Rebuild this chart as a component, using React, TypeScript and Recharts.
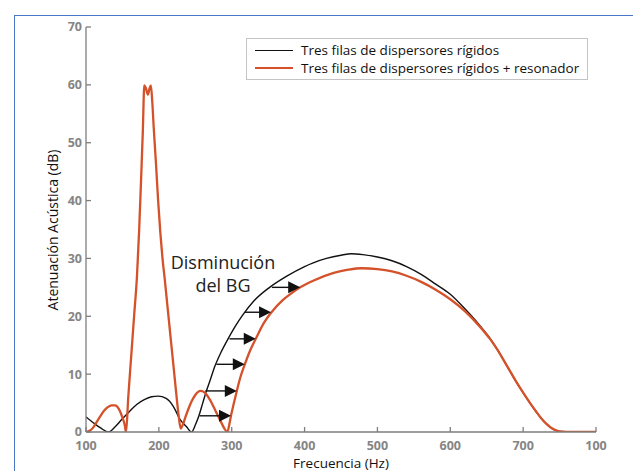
import React from 'react';
import { LineChart, Line, XAxis, YAxis, ReferenceLine, Legend } from 'recharts';

// ---- data ----
const xTicks = [100, 200, 300, 400, 500, 600, 700, 800];
const xTickLabels = ['100', '200', '300', '400', '500', '600', '700', '100'];
const yTicks = [0, 10, 20, 30, 40, 50, 60, 70];

const seriesNames = [
  'Tres filas de dispersores rígidos',
  'Tres filas de dispersores rígidos + resonador',
];

const rigidHz = [100, 110, 120, 131, 140, 150, 160, 170, 180, 190, 199, 210, 220, 229, 238, 245, 250, 255, 260, 265, 270, 277, 285, 295, 305, 315, 330, 352, 375, 400, 411, 430, 450, 464, 480, 500, 520, 540, 560, 580, 600, 620, 640, 655, 665, 677, 690, 700, 710, 718, 725, 732, 740, 746, 755, 765, 800];
const rigidDb = [2.6, 1.6, 0.7, 0, 0.9, 2.3, 3.6, 4.8, 5.6, 6.1, 6.2, 5.8, 4.4, 2.2, 0.9, 0, 1.2, 2.8, 4.9, 7.0, 8.8, 11.4, 13.7, 16.1, 18.3, 20.2, 22.6, 25.0, 26.9, 28.6, 29.2, 30.0, 30.55, 30.8, 30.65, 30.25, 29.6, 28.6, 27.25, 25.55, 23.8, 21.3, 18.5, 16.1, 14.2, 11.6, 8.8, 6.8, 4.9, 3.5, 2.35, 1.4, 0.6, 0.25, 0.05, 0, 0];

const resonHz = [100, 105, 110, 115, 120, 125, 130, 135, 140, 145, 150, 153, 155, 158, 162, 166, 170, 173, 176, 178, 180, 182, 185, 187, 189, 191, 193, 196, 199, 202, 205, 208, 212, 216, 220, 224, 227, 230, 233, 236, 240, 245, 250, 257, 263, 270, 278, 285, 290, 294, 297, 299, 303, 307, 312, 318, 325, 333, 343, 354, 370, 380, 394, 411, 440, 460, 478, 500, 520, 540, 560, 580, 600, 620, 640, 655, 665, 677, 690, 700, 710, 718, 725, 732, 740, 746, 755, 765, 800];
const resonDb = [0, 0.2, 0.8, 1.8, 2.8, 3.7, 4.3, 4.6, 4.6, 4.0, 2.5, 1.3, 0, 6, 13, 20, 27, 35, 45, 52, 59.9, 59.5, 58.3, 59.3, 59.9, 57, 52.5, 46.5, 40, 34.5, 30, 26.5, 21.5, 16.5, 11.5, 6.5, 3, 0.6, 1.3, 2.4, 3.8, 5.3, 6.4, 7.1, 6.8, 5.6, 3.6, 1.8, 0.6, 0, 1.5, 2.8, 5.0, 7.1, 9.5, 11.7, 14, 16.1, 18.6, 20.6, 22.8, 23.8, 25.0, 26.1, 27.5, 28.05, 28.3, 28.15, 27.75, 27.0, 25.95, 24.6, 22.95, 20.9, 18.3, 16.0, 14.15, 11.6, 8.8, 6.8, 4.9, 3.5, 2.35, 1.4, 0.6, 0.25, 0.05, 0, 0];

const arrowDb = [2.8, 7.1, 11.7, 16.1, 20.7, 25.0];
const arrowFromHz = [256, 264, 279, 297, 318, 355];
const arrowToHz = [299, 307, 318, 333, 354, 394];

const annotationLines = ['Disminución', 'del BG'];
const xTitle = 'Frecuencia (Hz)';
const yTitle = 'Atenuación Acústica (dB)';

// ---- built tables ----
const rigidData = rigidHz.map((hz, i) => ({ hz, db: rigidDb[i] }));
const resonData = resonHz.map((hz, i) => ({ hz, db: resonDb[i] }));

const FONT = '"Open Sans", "Noto Sans", sans-serif';
const AXIS_GRAY = '#7d7d7d';
const TICK_GRAY = '#858585';
const RED = '#D4512A';

const tickStyle = { fill: TICK_GRAY, fontSize: 12.5, fontWeight: 700, fontFamily: FONT };

const Arrow = (p: any) => {
  const { x1, y1, x2, y2 } = p;
  const L = 12;
  const H = 6;
  return (
    <g>
      <line x1={x1} y1={y1} x2={x2 - L + 1} y2={y2} stroke="#111" strokeWidth={1.4} />
      <path d={`M${x2},${y2} L${x2 - L},${y2 - H} L${x2 - L},${y2 + H} Z`} fill="#111" />
    </g>
  );
};

const renderLegend = (props: any) => {
  const payload = props.payload || [];
  return (
    <div
      style={{
        boxSizing: 'border-box',
        width: 342,
        height: 42,
        border: '1px solid #c4c4c4',
        background: '#fff',
        position: 'relative',
        fontFamily: FONT,
        fontSize: 13.5,
        color: '#111',
      }}
    >
      {payload.map((e: any, i: number) => (
        <div
          key={i}
          style={{
            position: 'absolute',
            left: 8,
            top: 2 + 18 * i,
            height: 18,
            display: 'flex',
            alignItems: 'center',
            whiteSpace: 'nowrap',
          }}
        >
          <span
            style={{
              display: 'inline-block',
              width: 38,
              height: 0,
              borderTop: `${i ? 2.2 : 1.6}px solid ${e.color}`,
              marginRight: 8,
            }}
          />
          <span>{e.value}</span>
        </div>
      ))}
    </div>
  );
};

export default function App() {
  return (
    <div
      style={{
        position: 'absolute',
        left: 0,
        top: 0,
        width: 633,
        height: 471,
        background: '#fff',
        overflow: 'hidden',
        fontFamily: FONT,
      }}
    >
      <div
        style={{
          position: 'absolute',
          left: 14,
          top: 15,
          width: 700,
          height: 600,
          borderTop: '1.5px solid #4a78c8',
          borderLeft: '1.5px solid #4a78c8',
        }}
      />
      <LineChart width={633} height={471} margin={{ top: 27, right: 37, bottom: 9, left: 46 }}>
        <XAxis
          xAxisId={0}
          type="number"
          dataKey="hz"
          domain={[100, 800]}
          ticks={xTicks}
          interval={0}
          allowDataOverflow
          tickFormatter={(v: number) => xTickLabels[xTicks.indexOf(v)] ?? String(v)}
          tickSize={-5}
          tickMargin={14}
          height={30}
          stroke={AXIS_GRAY}
          strokeWidth={1.3}
          tick={tickStyle}
        />
        <XAxis
          xAxisId="top"
          orientation="top"
          type="number"
          domain={[100, 800]}
          ticks={xTicks}
          interval={0}
          tick={false}
          tickSize={-5}
          height={0}
          stroke={AXIS_GRAY}
          strokeWidth={1.3}
        />
        <YAxis
          yAxisId={0}
          type="number"
          domain={[0, 70]}
          ticks={yTicks}
          interval={0}
          allowDataOverflow
          width={40}
          tickSize={-5}
          tickMargin={9}
          stroke={AXIS_GRAY}
          strokeWidth={1.3}
          tick={tickStyle}
        />
        <YAxis
          yAxisId="right"
          orientation="right"
          type="number"
          domain={[0, 70]}
          ticks={yTicks}
          interval={0}
          tick={false}
          tickSize={-5}
          width={0}
          stroke={AXIS_GRAY}
          strokeWidth={1.3}
        />
        <Legend
          layout="vertical"
          align="center"
          verticalAlign="middle"
          content={renderLegend}
          wrapperStyle={{ left: 246, top: 38, width: 342, height: 42 }}
        />
        <Line
          data={rigidData}
          dataKey="db"
          name={seriesNames[0]}
          type="monotone"
          stroke="#111111"
          strokeWidth={1.4}
          dot={false}
          activeDot={false}
          isAnimationActive={false}
        />
        <Line
          data={resonData}
          dataKey="db"
          name={seriesNames[1]}
          type="monotone"
          stroke={RED}
          strokeWidth={2.3}
          dot={false}
          activeDot={false}
          isAnimationActive={false}
        />
        {arrowDb.map((db, i) => (
          <ReferenceLine
            key={i}
            segment={[
              { x: arrowFromHz[i], y: db },
              { x: arrowToHz[i], y: db },
            ]}
            shape={Arrow}
          />
        ))}
      </LineChart>
      <div
        style={{
          position: 'absolute',
          left: 163,
          top: 251,
          width: 120,
          textAlign: 'center',
          fontSize: 18,
          lineHeight: '23px',
          color: '#222',
          whiteSpace: 'nowrap',
        }}
      >
        {annotationLines.map((t, i) => (
          <div key={i}>{t}</div>
        ))}
      </div>
      <div
        style={{
          position: 'absolute',
          left: 241,
          top: 456,
          width: 200,
          height: 14,
          lineHeight: '14px',
          textAlign: 'center',
          fontSize: 13.5,
          color: '#111',
          whiteSpace: 'nowrap',
        }}
      >
        {xTitle}
      </div>
      <div
        style={{
          position: 'absolute',
          left: 53 - 100,
          top: 230 - 10,
          width: 200,
          height: 20,
          lineHeight: '20px',
          textAlign: 'center',
          fontSize: 14,
          color: '#111',
          whiteSpace: 'nowrap',
          transform: 'rotate(-90deg)',
        }}
      >
        {yTitle}
      </div>
    </div>
  );
}
